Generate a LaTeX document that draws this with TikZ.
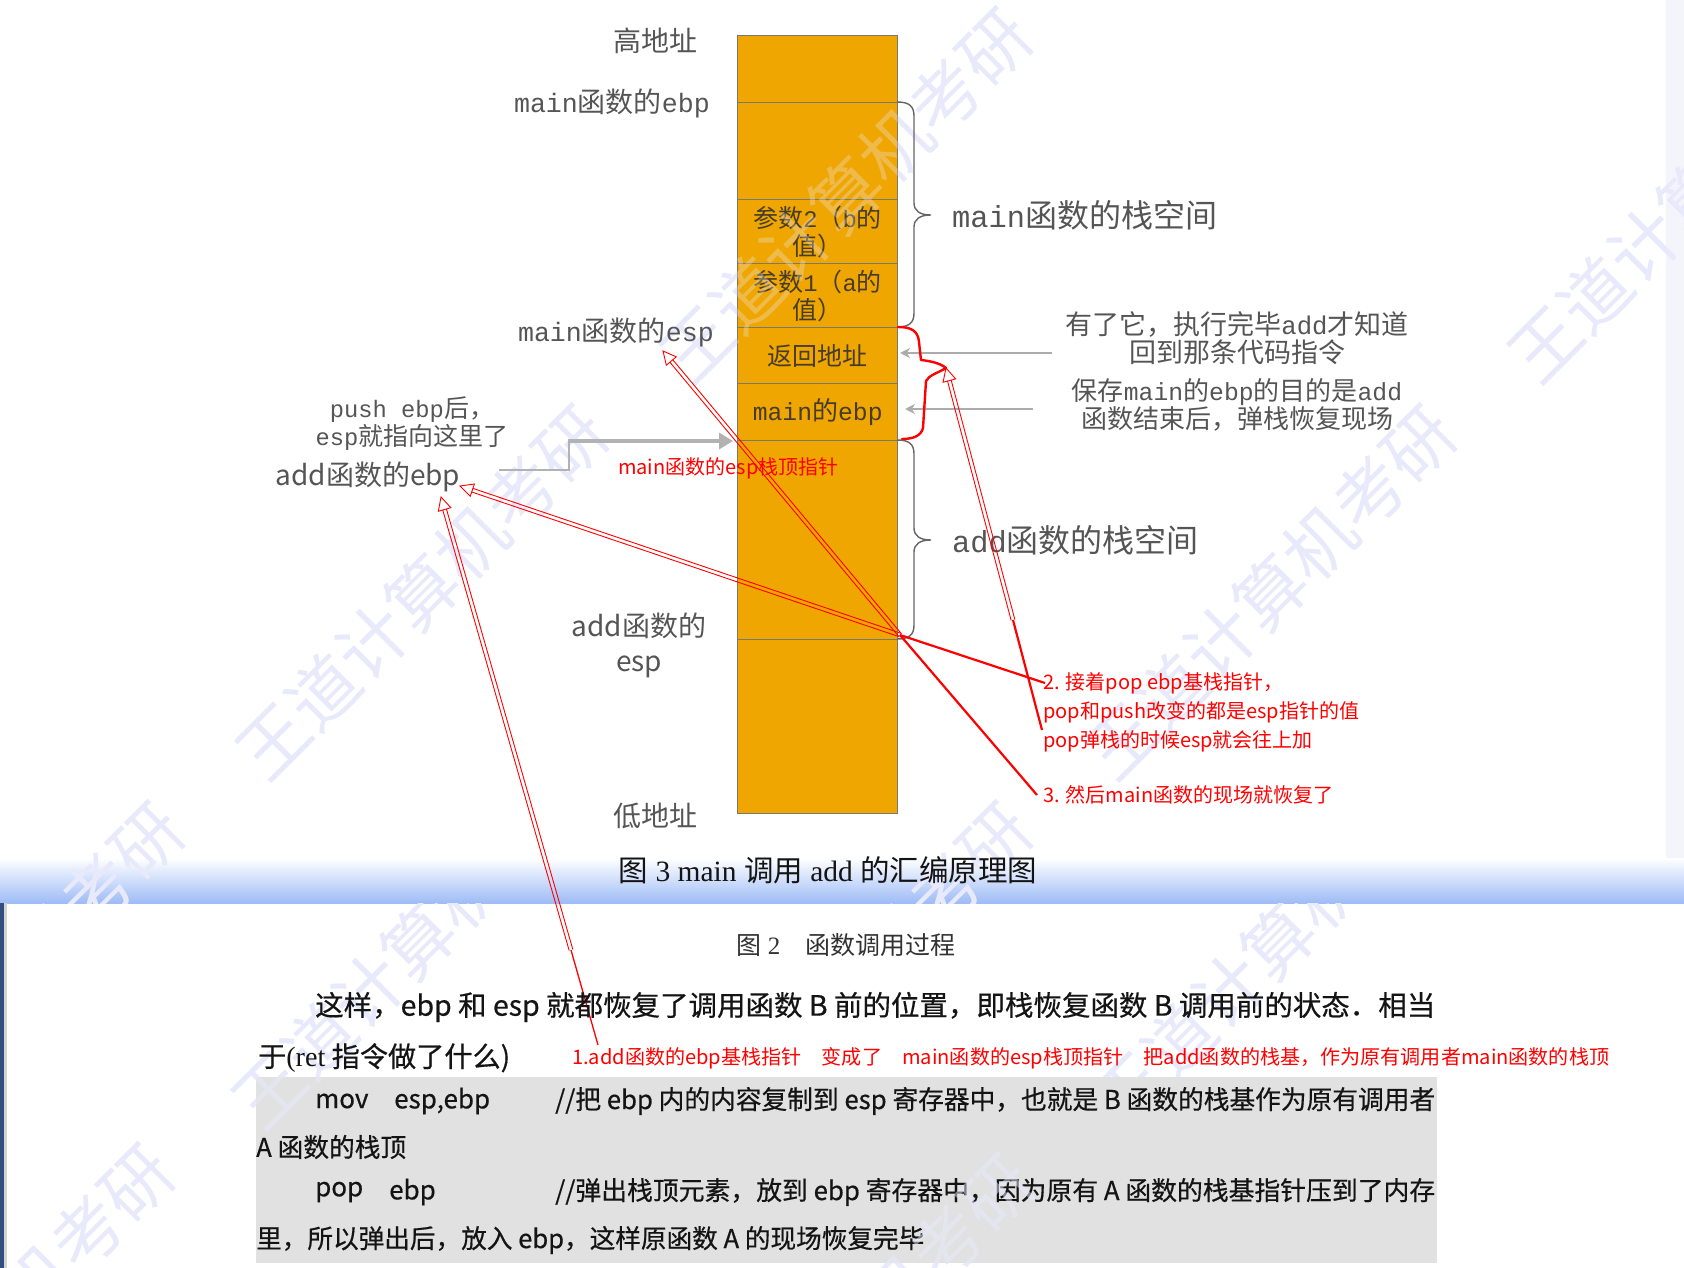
\documentclass[tikz,border=0pt]{standalone}
\usepackage{graphicx}
\usepackage{fontspec}
\setmainfont{Noto Sans CJK SC}
\newfontfamily\mono[Scale=0.95]{Liberation Mono}
\newfontfamily\tnr{Liberation Serif}
\newfontfamily\darkcjk[FakeBold=0.5]{Noto Sans CJK SC}
\usetikzlibrary{arrows.meta,calc}
\definecolor{stackfill}{RGB}{240,166,0}
\definecolor{stackline}{RGB}{125,120,110}
\definecolor{labelgray}{RGB}{85,85,85}
\definecolor{cellgray}{RGB}{70,60,40}
\definecolor{annred}{RGB}{255,0,0}
\definecolor{wmcol}{RGB}{232,234,251}
\definecolor{blockgray}{RGB}{225,225,225}
\definecolor{bandblue}{RGB}{158,188,246}
\definecolor{navyedge}{RGB}{50,78,128}
\definecolor{sidestrip}{RGB}{244,245,251}
\definecolor{textblack}{RGB}{20,20,20}
\newcommand\fs[2]{\fontsize{#1}{#2}\selectfont}
\newcommand\fitw[2]{\resizebox{#1}{\height}{#2}}
\newcommand\hollowarrow[2]{%
  \coordinate (hb) at ($(#2)!13pt!(#1)$);
  \draw[hollowline] ($(#1)!1.9pt!90:(hb)$) -- ($(hb)!1.9pt!-90:(#1)$);
  \draw[hollowline] ($(#1)!1.9pt!-90:(hb)$) -- ($(hb)!1.9pt!90:(#1)$);
  \draw[hollowline, line join=miter] ($(hb)!6.5pt!90:(#2)$) -- (#2) -- ($(hb)!6.5pt!-90:(#2)$) -- cycle;
}
\begin{document}
\begin{tikzpicture}[x=1pt,y=-1pt,
  cell/.style={draw=stackline, line width=1.4pt, fill=stackfill, minimum width=160pt, anchor=north west, inner sep=0pt, text=cellgray, align=center},
  glabel/.style={text=labelgray, inner sep=0pt},
  gbrace/.style={draw=gray!80!black, line width=1.4pt},
  garrow/.style={draw=gray!65, line width=2.4pt, -{Stealth[length=10pt,width=10pt]}},
  redline/.style={draw=annred, line width=2.2pt},
  hollowline/.style={draw=annred, line width=0.9pt},
  redtext/.style={text=annred, inner sep=0pt, anchor=west, font=\fs{20}{24}},
  wmark/.style={text=wmcol, inner sep=0pt, anchor=west, rotate=45, font=\fs{70}{70}},
  btext/.style={text=textblack, inner sep=0pt, anchor=west},
]
\useasboundingbox (0,0) rectangle (1684,1268);
\fill[white] (0,0) rectangle (1684,1268);
\fill[sidestrip] (1666,0) rectangle (1684,860);
\shade[top color=white, bottom color=bandblue] (0,858) rectangle (1684,903);
\fill[navyedge] (0,903) rectangle (4,1268);
\fill[gray!35] (4,903) rectangle (7,1268);

% watermarks (upper screenshot, under the stack fill in white areas)
\begin{scope}
\clip (0,0) rectangle (1684,903);
\foreach \wx/\wy [count=\i] in {274/741, 698/344, 1122/741, 1546/344, 698/1138, -150/1138}
  \node[wmark] (wu\i) at (\wx-25,\wy+25) {王道计算机考研};
\end{scope}
\begin{scope}
\clip (0,903) rectangle (1684,1268);
\foreach \wx/\wy [count=\i] in {270/1090, 1130/1090, 700/1490, -160/1480}
  \node[wmark] (wl\i) at (\wx-25,\wy+25) {王道计算机考研};
\end{scope}

% stack
\node[cell, minimum height=67pt] (s0) at (737,35) {};
\node[cell, minimum height=97pt] (s1) at (737,102) {};
\node[cell, minimum height=64pt, font=\fs{25}{28}] (s2) at (737,199) {参数{\mono 2}（{\mono b}的\\值）};
\node[cell, minimum height=64pt, font=\fs{25}{28}] (s3) at (737,263) {参数{\mono 1}（{\mono a}的\\值）};
\node[cell, minimum height=56pt, font=\fs{25}{28}] (s4) at (737,327) {返回地址};
\node[cell, minimum height=57pt, font=\fs{26}{28}] (s5) at (737,383) {{\mono main}的{\mono ebp}};
\node[cell, minimum height=199pt] (s6) at (737,440) {};
\node[cell, minimum height=174pt] (s7) at (737,639) {};

% faint watermark strokes over the stack
\begin{scope}
\clip (737,35) rectangle (897,813);
\foreach \wx/\wy [count=\i] in {698/344, 274/741, 698/1138}
  \node[wmark, text opacity=0.3] (ws\i) at (\wx-25,\wy+25) {王道计算机考研};
\end{scope}

% left labels
\node[glabel, font=\fs{28}{30}] (high) at (655,41) {高地址};
\node[glabel, font=\fs{28}{30}, anchor=east] (mainebp) at (710,103) {{\mono main}函数的{\mono ebp}};
\node[glabel, font=\fs{28}{30}, anchor=east] (mainesp) at (714,332) {{\mono main}函数的{\mono esp}};
\node[glabel, font=\fs{25}{28}, align=center] (pushlbl) at (412,424) {{\mono push ebp}后，\\{\mono esp}就指向这里了};
\node[glabel, font=\fs{28}{30}] (addebp) at (368,477) {add函数的ebp};
\node[glabel, font=\fs{28}{35}, align=center] (addesp) at (639,645) {add函数的\\esp};
\node[glabel, font=\fs{28}{30}] (low) at (655,816) {低地址};

% braces
\draw[gbrace] (897,102) .. controls (909,102) and (914,106) .. (914,116) -- (914,203) .. controls (914,211) and (920,215) .. (931,215) .. controls (920,215) and (914,219) .. (914,227) -- (914,313) .. controls (914,323) and (909,327) .. (897,327);
\draw[gbrace] (897,440) .. controls (909,440) and (914,444) .. (914,454) -- (914,528) .. controls (914,536) and (920,540) .. (931,540) .. controls (920,540) and (914,544) .. (914,552) -- (914,625) .. controls (914,635) and (909,639) .. (897,639);
\node[glabel, font=\fs{32}{34}, anchor=west] (mainspace) at (952,215) {{\mono main}函数的栈空间};
\node[glabel, font=\fs{32}{34}, anchor=west] (addspace) at (952,540) {{\mono add}函数的栈空间};

% right notes
\node[glabel, font=\fs{27}{28}, align=center] (note1) at (1237,338) {有了它，执行完毕{\mono add}才知道\\回到那条代码指令};
\node[glabel, font=\fs{26}{27}, align=center] (note2) at (1237,405) {保存{\mono main}的{\mono ebp}的目的是{\mono add}\\函数结束后，弹栈恢复现场};
\coordinate (a1s) at (1052,353); \coordinate (a1e) at (900,353);
\coordinate (a2s) at (1033,409); \coordinate (a2e) at (905,409);
\draw[garrow] (a1s) -- (a1e);
\draw[garrow] (a2s) -- (a2e);

% push arrow
\coordinate (p0) at (499,470); \coordinate (p1) at (569,470); \coordinate (p2) at (568,441); \coordinate (p3) at (733,441);
\draw[draw=gray!60, line width=2.4pt] (p0) -- (p1) -- (569,441);
\draw[draw=gray!60, line width=4.5pt, -{Triangle[length=14pt,width=16pt]}] (p2) -- (p3);

% red brace
\draw[annred, line width=2.4pt, line cap=round, line join=round] (898,327) .. controls (910,327) and (918,330) .. (919,342) -- (921,360) .. controls (930,361) and (940,363) .. (946,368) .. controls (938,373) and (929,375) .. (926,381) -- (923,428) .. controls (921,436) and (913,439) .. (902,439);

% red annotations
\node[redtext] (espnote) at (618,468) {main函数的esp栈顶指针};
\node[redtext] (l2a) at (1043,683) {2. 接着pop ebp基栈指针，};
\node[redtext] (l2b) at (1043,712) {pop和push改变的都是esp指针的值};
\node[redtext] (l2c) at (1043,741) {pop弹栈的时候esp就会往上加};
\node[redtext] (l3) at (1043,795) {3. 然后main函数的现场就恢复了};
\node[redtext] (l1) at (572,1058) {\fitw{1037pt}{1.add函数的ebp基栈指针\quad 变成了\quad main函数的esp栈顶指针\quad 把add函数的栈基，作为原有调用者main函数的栈顶}};

\coordinate (x0) at (900,635);
\coordinate (tipA) at (663,351);
\coordinate (tipB) at (460,486);
\coordinate (tipC) at (946,368);
\coordinate (tipD) at (441,497);
\coordinate (e3) at (1037,795);
\coordinate (e2) at (1045,683);
\coordinate (c1) at (1013,620);
\coordinate (e2c) at (1042,730);
\coordinate (d1) at (571,950);
\coordinate (e1) at (598,1045);
\draw[redline] (e3) -- (x0);
\draw[redline] (e2) -- (x0);
\hollowarrow{x0}{tipA}
\hollowarrow{x0}{tipB}
\draw[redline] (e2c) -- (c1);
\hollowarrow{c1}{tipC}
\draw[redline, line width=1.3pt] (e1) -- (d1);
\hollowarrow{d1}{tipD}

% captions
\node[btext, anchor=center, font=\fs{29.5}{32}] (cap3) at (828,870) {图{\tnr\ 3 main }调用{\tnr\ add }的汇编原理图};
\node[btext, anchor=center, text={rgb,255:red,50;green,50;blue,50}, font=\fs{25}{28}] (cap2) at (846,945) {图{\tnr\ 2}\quad 函数调用过程};

% paragraph
\node[btext, font=\darkcjk\fs{28}{30}] (para1) at (315,1007) {\fitw{1120pt}{这样，ebp 和 esp 就都恢复了调用函数 B 前的位置，即栈恢复函数 B 调用前的状态．相当}};
\node[btext, font=\darkcjk\fs{28}{30}] (para2) at (258,1058) {\fitw{252pt}{于{\tnr (ret} 指令做了什么)}};

% code block
\fill[blockgray] (256,1077) rectangle (1437,1263);
\node[btext, font=\darkcjk\fs{26}{28}] (mov) at (315,1101) {mov};
\node[btext, font=\darkcjk\fs{26}{28}] (movops) at (394,1101) {esp,ebp};
\node[btext, font=\darkcjk\fs{26}{28}] (movc) at (555,1101) {\fitw{880pt}{//把 ebp 内的内容复制到 esp 寄存器中，也就是 B 函数的栈基作为原有调用者}};
\node[btext, font=\darkcjk\fs{26}{28}] (movc2) at (256,1147) {\fitw{150pt}{A 函数的栈顶}};
\node[btext, font=\darkcjk\fs{26}{28}] (pop) at (315,1192) {pop};
\node[btext, font=\darkcjk\fs{26}{28}] (popops) at (389,1192) {ebp};
\node[btext, font=\darkcjk\fs{26}{28}] (popc) at (555,1192) {\fitw{880pt}{//弹出栈顶元素，放到 ebp 寄存器中，因为原有 A 函数的栈基指针压到了内存}};
\node[btext, font=\darkcjk\fs{26}{28}] (popc2) at (256,1240) {\fitw{668pt}{里，所以弹出后，放入 ebp，这样原函数 A 的现场恢复完毕}};

% faint watermark strokes over the gray block
\begin{scope}
\clip (256,1077) rectangle (1437,1263);
\foreach \wx/\wy [count=\i] in {270/1090, 700/1490}
  \node[wmark, text opacity=0.5] (wb\i) at (\wx-25,\wy+25) {王道计算机考研};
\end{scope}
\end{tikzpicture}
\end{document}
